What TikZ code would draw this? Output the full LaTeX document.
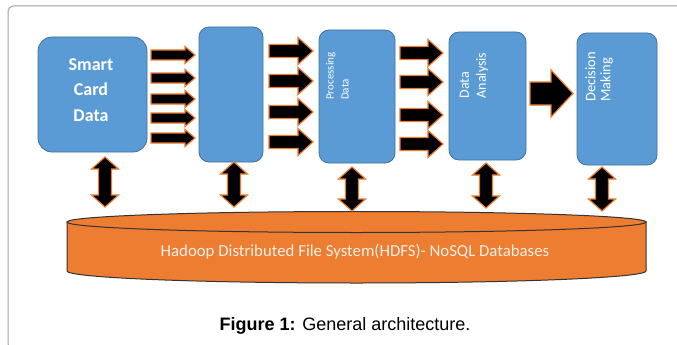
\documentclass[tikz,border=0pt]{standalone}
\usepackage{fontspec}
\setmainfont{Carlito}
\newfontfamily\capfont{Liberation Sans}
\usetikzlibrary{calc}
\definecolor{boxblue}{HTML}{5B9BD5}
\definecolor{boxline}{HTML}{41719C}
\definecolor{diskorange}{HTML}{ED7D31}
\definecolor{framegray}{HTML}{A0A0A0}
% block arrow: from x1 to x2 at height y, shaft half, head half, head length
\newcommand{\fatarrow}[6]{%
  \filldraw[blockarrow] (#1,#3-#4) -- (#2-#6,#3-#4) -- (#2-#6,#3-#5) -- (#2,#3)
    -- (#2-#6,#3+#5) -- (#2-#6,#3+#4) -- (#1,#3+#4) -- cycle;}
% up-down block arrow: x, top, bottom
\newcommand{\updown}[3]{%
  \filldraw[blockarrow] (#1,#2) -- (#1+13.5,#2+12) -- (#1+6.5,#2+12) -- (#1+6.5,#3-12)
    -- (#1+13.5,#3-12) -- (#1,#3) -- (#1-13.5,#3-12) -- (#1-6.5,#3-12)
    -- (#1-6.5,#2+12) -- (#1-13.5,#2+12) -- cycle;}

\begin{document}
\begin{tikzpicture}[x=1pt, y=-1pt,
    box/.style={draw=boxline, line width=0.8pt, fill=boxblue, rounded corners=10pt, inner sep=0pt},
    blockarrow/.style={fill=black, draw=diskorange, line width=1.2pt, line join=miter},
    vtext/.style={rotate=90, anchor=west, align=left, inner sep=0pt, text=white}]
    \useasboundingbox (0,0) rectangle (677,345);
    \draw[framegray, line width=1pt, rounded corners=5pt] (700,6) -- (8,6) -- (8,349) -- (700,349);

    % boxes
    \node[box, rounded corners=14pt, minimum width=109pt, minimum height=115pt] (smart) at (92.5,94.5) {};
    \node[box, minimum width=64pt, minimum height=135pt] (collect) at (231,94.5) {};
    \node[box, minimum width=76pt, minimum height=133pt] (process) at (357,96.5) {};
    \node[box, minimum width=77pt, minimum height=128pt] (analysis) at (487.5,96) {};
    \node[box, minimum width=80pt, minimum height=132pt] (decision) at (617,99) {};

    \node[align=center, text=white, font=\bfseries\fontsize{18}{25.5}\selectfont] at (91,90) {Smart\\Card\\Data};
    \node[vtext, font=\fontsize{11}{15}\selectfont] at (337.5,100) {Processing\\Data};
    \node[vtext, font=\fontsize{14}{17}\selectfont] at (474,98.5) {Data\\Analysis};
    \node[vtext, font=\fontsize{14.5}{15}\selectfont] at (599,102) {Decision\\Making};

    % arrows between the boxes
    \foreach \y in {55,78,99,118,138}
        \fatarrow{151}{195}{\y}{5}{8.5}{10};
    \foreach \y in {51,81,112,142}
        \fatarrow{269}{313}{\y}{6.5}{13.5}{15};
    \foreach \y in {53,82,115,144}
        \fatarrow{400}{443}{\y}{6.5}{13.5}{15};
    \fatarrow{530}{573}{93.5}{11.5}{23.5}{22};

    % disk
    \filldraw[fill=diskorange, draw=black!80, line width=1pt] (67,222) -- (67,271)
        arc[start angle=180, end angle=0, x radius=289.5, y radius=12] -- (646,222) -- cycle;
    \filldraw[fill=diskorange, draw=black!80, line width=1pt] (356.5,222) ellipse [x radius=289.5, y radius=10.5];
    \node[text=white!88!diskorange, font=\fontsize{16.8}{19}\selectfont] (hdfs) at (355,252)
        {Hadoop Distributed File System(HDFS)- NoSQL Databases};

    % arrows to the disk
    \updown{105}{157}{207}
    \updown{234}{162}{207}
    \updown{352}{167}{211}
    \updown{486}{163}{208}
    \updown{602}{167}{211}

    \node[font=\capfont\fontsize{18}{20}\selectfont] (caption) at (345,326)
        {\textbf{Figure 1:} General architecture.};
\end{tikzpicture}
\end{document}
